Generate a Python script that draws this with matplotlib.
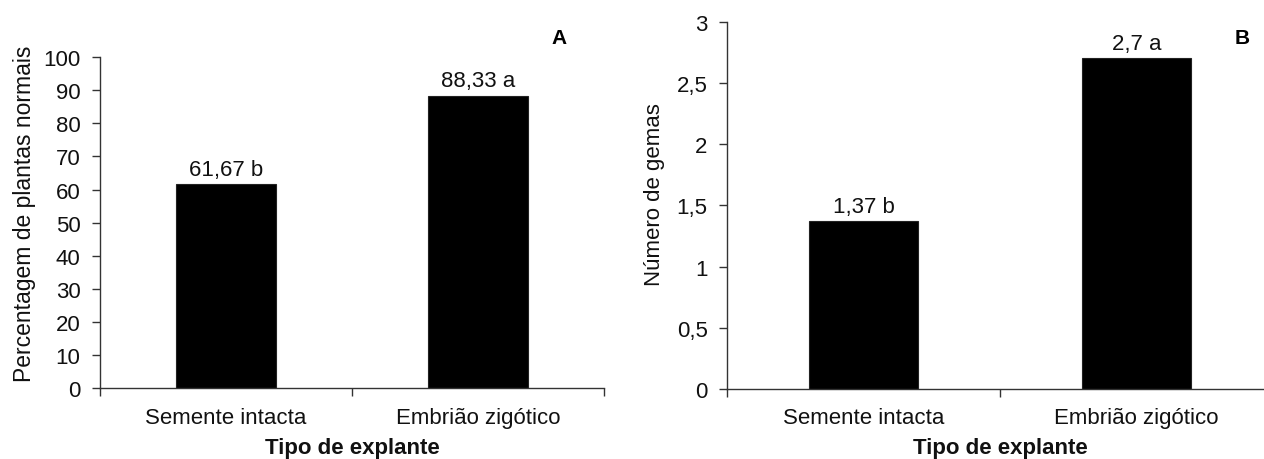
import numpy as np
import matplotlib.pyplot as plt

plt.rcParams['font.family'] = ['Liberation Sans', 'DejaVu Sans']

# data
categorias = ['Semente intacta', 'Embrião zigótico']
plantas_normais = [61.67, 88.33]
letras_a = ['b', 'a']
num_gemas = [1.37, 2.7]
letras_b = ['b', 'a']

yticks_a = [0, 10, 20, 30, 40, 50, 60, 70, 80, 90, 100]
yticks_b = [0, 0.5, 1, 1.5, 2, 2.5, 3]


def fmt(v):
    return f'{v:g}'.replace('.', ',')


def draw_panel(ax, valores, letras, yticks, ylabel, ylabel_size):
    x = np.arange(len(categorias))
    ax.bar(x, valores, width=0.4, color='black', edgecolor='#222222', linewidth=0.8)
    for xi, v, l in zip(x, valores, letras):
        ax.annotate(f'{fmt(v)} {l}', (xi, v), xytext=(0, 3), textcoords='offset points',
                    ha='center', va='bottom', fontsize=16, color='#111111')
    ax.set_xlim(-0.5, len(categorias) - 0.5)
    ax.set_ylim(yticks[0], yticks[-1])
    ax.set_yticks(yticks)
    ax.set_yticklabels([fmt(t) for t in yticks], fontsize=16, color='#111111')
    ax.set_xticks(x)
    ax.set_xticklabels(categorias, fontsize=16, color='#111111')
    ax.tick_params(axis='x', which='major', length=0, pad=13)
    ax.set_xticks([-0.5, 0.5, 1.5], minor=True)
    ax.tick_params(axis='x', which='minor', length=6, width=1, color='#333333')
    ax.tick_params(axis='y', length=6, width=1, pad=8, color='#333333')
    ax.spines['top'].set_visible(False)
    ax.spines['right'].set_visible(False)
    for s in ('left', 'bottom'):
        ax.spines[s].set_linewidth(1)
        ax.spines[s].set_color('#333333')
    ax.set_ylabel(ylabel, fontsize=ylabel_size, color='#111111')
    ax.set_xlabel('Tipo de explante', fontsize=16, fontweight='bold', labelpad=6.5, color='#111111')


fig = plt.figure(figsize=(12.64, 4.6), dpi=100)
ax1 = fig.add_axes([0.0791, 0.1533, 0.3987, 0.7207])
ax2 = fig.add_axes([0.5752, 0.1522, 0.4320, 0.7985])

draw_panel(ax1, plantas_normais, letras_a, yticks_a, 'Percentagem de plantas normais', 16.5)
draw_panel(ax2, num_gemas, letras_b, yticks_b, 'Número de gemas', 16)
ax1.yaxis.set_label_coords(-0.127, 0.53)
ax2.yaxis.set_label_coords(-0.113, 0.533)

fig.text(559 / 1264, 1 - 38 / 460, 'A', fontsize=15, fontweight='bold', ha='center', va='center')
fig.text(1242 / 1264, 1 - 38 / 460, 'B', fontsize=15, fontweight='bold', ha='center', va='center')

fig.savefig('out.png', dpi=100)
